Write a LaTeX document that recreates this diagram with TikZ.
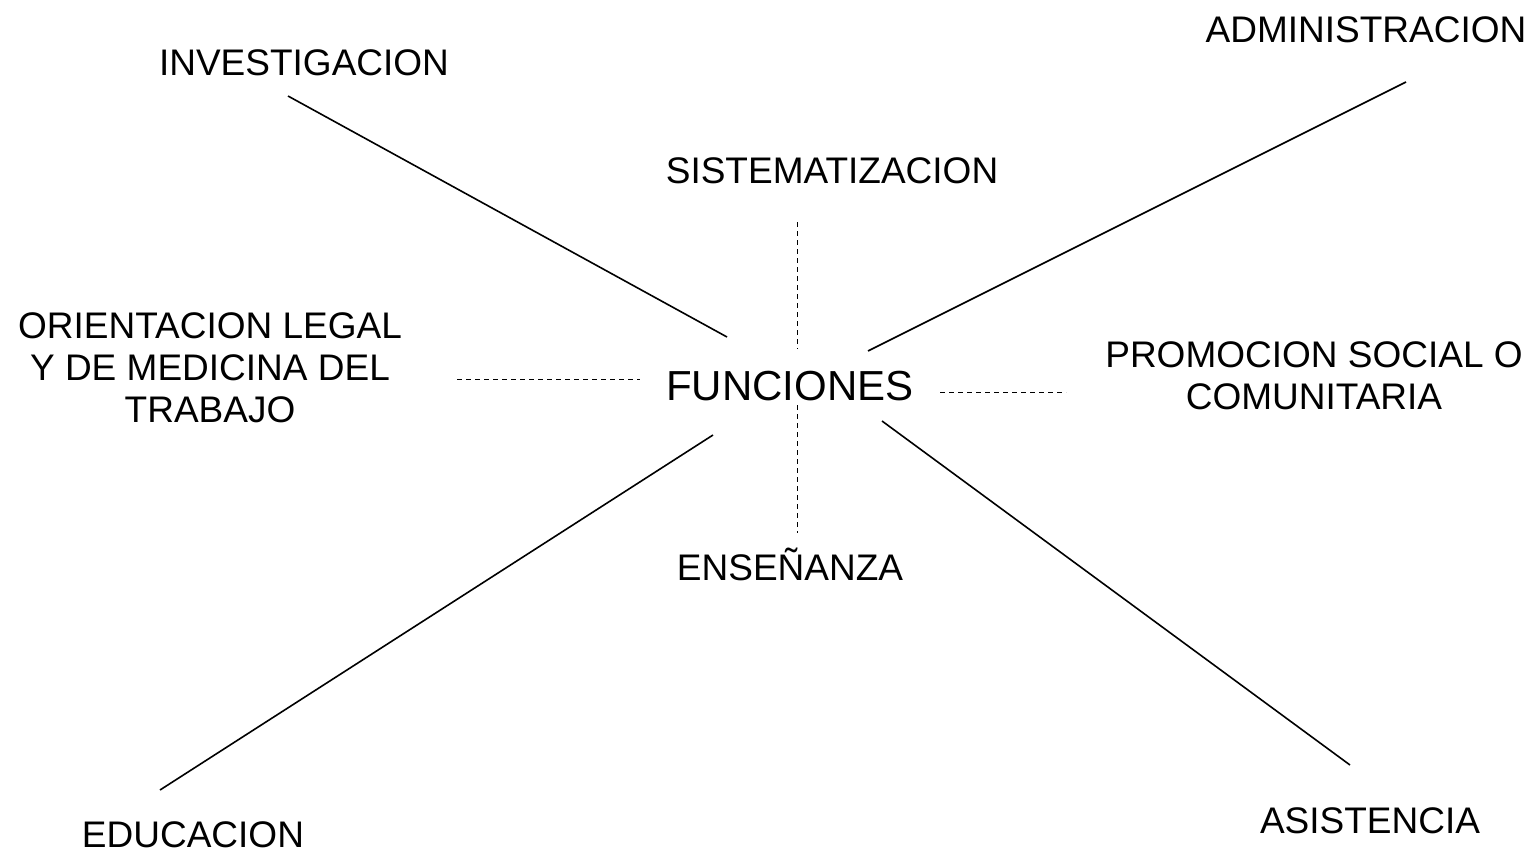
\documentclass[tikz,border=0pt]{standalone}
\usepackage{fontspec}
\setmainfont{Liberation Sans}
\begin{document}
\begin{tikzpicture}[x=1pt,y=-1pt,
  lbl/.style={inner sep=0pt,font=\fontsize{37}{42}\selectfont,align=center},
  big/.style={inner sep=0pt,font=\fontsize{42}{48}\selectfont},
  solidline/.style={line width=1.6pt},
  dashline/.style={line width=1pt,dash pattern=on 5pt off 4pt}]
\useasboundingbox (0,0) rectangle (1533,852);
% labels
\node[lbl,anchor=base] (inv) at (304,75) {INVESTIGACION};
\node[lbl,anchor=base] (adm) at (1366,42) {ADMINISTRACION};
\node[lbl,anchor=base] (sis) at (832,183) {SISTEMATIZACION};
\node[big,anchor=base] (fun) at (790,400) {FUNCIONES};
\node[lbl] (ori) at (210,368) {ORIENTACION LEGAL\\Y DE MEDICINA DEL\\TRABAJO};
\node[lbl] (pro) at (1314,376) {PROMOCION SOCIAL O\\COMUNITARIA};
\node[lbl,anchor=base] (ens) at (790,580) {ENSEÑANZA};
\node[lbl,anchor=base] (edu) at (193,847) {EDUCACION};
\node[lbl,anchor=base] (asi) at (1370,833) {ASISTENCIA};
% connector ends
\coordinate (invA) at (288,96);   \coordinate (invB) at (727,337);
\coordinate (admA) at (1406,82);  \coordinate (admB) at (868,351);
\coordinate (eduA) at (160,790);  \coordinate (eduB) at (713,435);
\coordinate (asiA) at (1350,765); \coordinate (asiB) at (882,421);
\coordinate (oriA) at (457,379);  \coordinate (oriB) at (640,379);
\coordinate (proA) at (940,392);  \coordinate (proB) at (1066,392);
\coordinate (sisA) at (797,222);  \coordinate (sisB) at (797,349);
\coordinate (ensA) at (797,405);  \coordinate (ensB) at (797,533);
% connectors
\draw[solidline] (invA) -- (invB);
\draw[solidline] (admA) -- (admB);
\draw[solidline] (eduA) -- (eduB);
\draw[solidline] (asiA) -- (asiB);
\draw[dashline] (oriA) -- (oriB);
\draw[dashline] (proA) -- (proB);
\draw[dashline] (sisA) -- (sisB);
\draw[dashline] (ensA) -- (ensB);
\end{tikzpicture}
\end{document}
